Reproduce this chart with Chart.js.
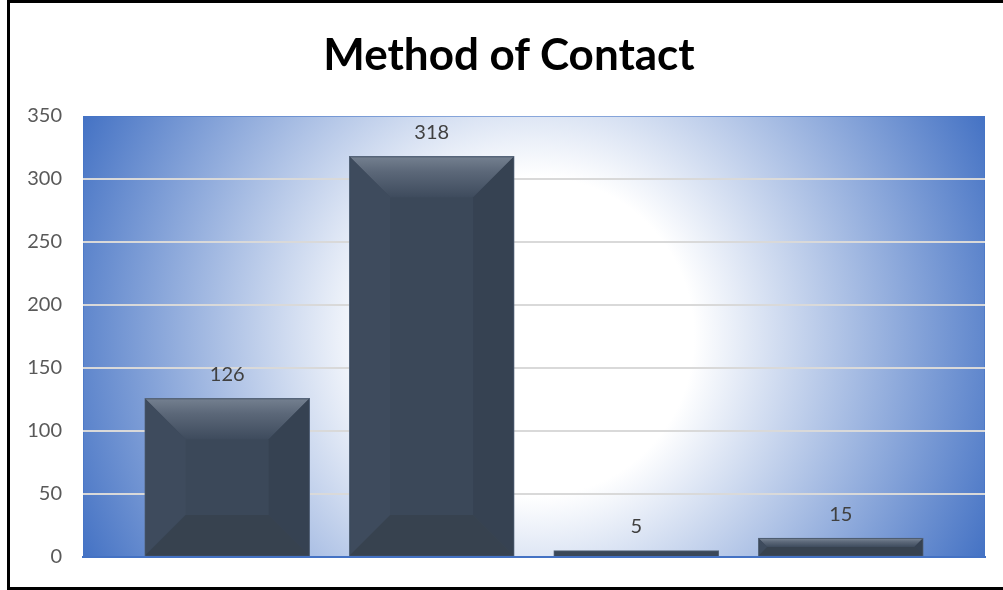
<!DOCTYPE html>
<html>
<head>
<meta charset="utf-8">
<script src="https://cdn.jsdelivr.net/npm/chart.js@4.4.1/dist/chart.umd.min.js"></script>
<style>
  html, body { margin: 0; padding: 0; background: #fff; overflow: hidden; }
  #frame { position: absolute; left: 7px; top: 0; width: 1010px; height: 584px; border: 3px solid #000; }
  #wrap { position: absolute; left: 0; top: 0; width: 1020px; height: 590px; }
  #chart-title {
    position: absolute; left: 0; top: 27px; width: 1018px; margin: 0;
    text-align: center; font: bold 44px/53px Lato, sans-serif; color: #000;
  }
</style>
</head>
<body>
<div id="frame"></div>
<div id="wrap"><canvas id="contact-chart" width="1020" height="590"></canvas></div>
<h1 id="chart-title"></h1>
<script>
(function () {
  'use strict';

  // Chart data
  const TITLE = 'Method of Contact';
  const CATEGORIES = [0, 1, 2, 3];          // category slots (no axis labels shown)
  const VALUES = [126, 318, 5, 15];
  const Y_TICKS = [0, 50, 100, 150, 200, 250, 300, 350];

  const BAR_COLOR = '#3b4859';
  const LABEL_FONT = { family: 'Lato', size: 20 };

  document.getElementById('chart-title').textContent = TITLE;

  // Radial white-to-blue fill behind the plot
  const plotBackground = {
    id: 'plotBackground',
    beforeDraw: function (chart) {
      const a = chart.chartArea;
      const ctx = chart.ctx;
      const cx = (a.left + a.right) / 2;
      const cy = (a.top + a.bottom) / 2;
      const R = Math.hypot((a.right - a.left) / 2, (a.bottom - a.top) / 2);
      const g = ctx.createRadialGradient(cx, cy, 0, cx, cy, R);
      g.addColorStop(0, '#ffffff');
      g.addColorStop(160 / R, '#ffffff');
      g.addColorStop(1, '#4472c4');
      ctx.save();
      ctx.fillStyle = g;
      ctx.fillRect(a.left, a.top, a.right - a.left, a.bottom - a.top);
      ctx.strokeStyle = 'rgba(68,114,196,0.55)';
      ctx.lineWidth = 1;
      ctx.strokeRect(a.left + 0.5, a.top + 0.5, a.right - a.left - 1, a.bottom - a.top - 1);
      ctx.restore();
    }
  };

  // Excel-style bevel on each bar
  const barBevel = {
    id: 'barBevel',
    afterDatasetDraw: function (chart, args) {
      const ctx = chart.ctx;
      args.meta.data.forEach(function (bar) {
        const l = bar.x - bar.width / 2 + 1;
        const r = bar.x + bar.width / 2 - 1;
        const t = bar.y + 1;
        const b = bar.base - 1;
        const h = b - t;
        if (h < 10) return;
        const s = Math.min(40, h / 2, (r - l) / 2);

        function poly(pts, fill) {
          ctx.beginPath();
          ctx.moveTo(pts[0][0], pts[0][1]);
          for (let i = 1; i < pts.length; i++) ctx.lineTo(pts[i][0], pts[i][1]);
          ctx.closePath();
          ctx.fillStyle = fill;
          ctx.fill();
        }

        ctx.save();
        const top = ctx.createLinearGradient(0, t, 0, t + s);
        top.addColorStop(0, '#737f8f');
        top.addColorStop(0.35, '#5c6879');
        top.addColorStop(1, '#3e4b5d');
        poly([[l, t], [r, t], [r - s, t + s], [l + s, t + s]], top);
        poly([[l, t], [l + s, t + s], [l + s, b - s], [l, b]], '#3e4b5d');
        poly([[r, t], [r, b], [r - s, b - s], [r - s, t + s]], '#364252');
        poly([[l, b], [l + s, b - s], [r - s, b - s], [r, b]], '#37424f');
        ctx.restore();
      });
    }
  };

  // Value labels above bars
  const valueLabels = {
    id: 'valueLabels',
    afterDatasetsDraw: function (chart) {
      const ctx = chart.ctx;
      const meta = chart.getDatasetMeta(0);
      ctx.save();
      ctx.font = LABEL_FONT.size + 'px ' + LABEL_FONT.family;
      ctx.fillStyle = '#404040';
      ctx.textAlign = 'center';
      ctx.textBaseline = 'middle';
      meta.data.forEach(function (bar, i) {
        ctx.fillText(String(VALUES[i]), bar.x, bar.y - 24);
      });
      ctx.restore();
    }
  };

  const canvas = document.getElementById('contact-chart');

  new Chart(canvas, {
    type: 'bar',
    data: {
      datasets: [{
        data: CATEGORIES.map(function (c, i) { return { x: c, y: VALUES[i] }; }),
        backgroundColor: BAR_COLOR,
        borderColor: '#56657a',
        borderWidth: 1,
        barThickness: 165,
      }],
    },
    options: {
      responsive: false,
      animation: false,
      layout: { padding: { top: 116, right: 35, bottom: 21, left: 0 } },
      plugins: {
        legend: { display: false },
        tooltip: { enabled: false },
        title: { display: false },
      },
      scales: {
        x: {
          type: 'linear',
          offset: false,
          min: CATEGORIES[0] - 0.705,
          max: CATEGORIES[CATEGORIES.length - 1] + 0.705,
          ticks: { display: false },
          grid: { display: false, drawTicks: false },
          border: { display: true, color: '#4472c4', width: 2 },
        },
        y: {
          min: Y_TICKS[0],
          max: Y_TICKS[Y_TICKS.length - 1],
          afterBuildTicks: function (scale) {
            scale.ticks = Y_TICKS.map(function (v) { return { value: v }; });
          },
          afterFit: function (scale) { scale.width = 83; },
          ticks: { color: '#595959', font: LABEL_FONT, padding: 21 },
          grid: {
            drawTicks: false,
            lineWidth: 2,
            color: function (ctx) {
              const v = ctx.tick && ctx.tick.value;
              return (v === 0 || v === 350) ? 'rgba(0,0,0,0)' : '#d9d9d9';
            },
          },
          border: { display: false },
        },
      },
    },
    plugins: [plotBackground, barBevel, valueLabels],
  });
})();
</script>
</body>
</html>
